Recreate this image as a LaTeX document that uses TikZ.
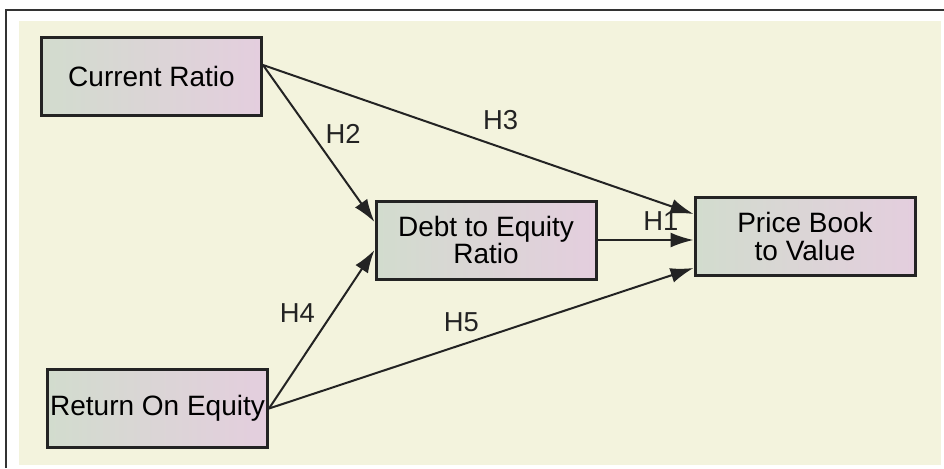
\documentclass[tikz,border=0pt]{standalone}
\usepackage{fontspec}
\setmainfont{Liberation Sans}
\usetikzlibrary{arrows.meta,positioning}
\definecolor{panelcream}{RGB}{243,243,221}
\definecolor{boxgreen}{RGB}{210,220,206}
\definecolor{boxpink}{RGB}{228,206,222}
\definecolor{edgegray}{RGB}{35,35,35}
\tikzset{
  varbox/.style={draw=edgegray, line width=1.5pt, left color=boxgreen, right color=boxpink,
    minimum width=110pt, minimum height=39pt, align=center, inner sep=1pt,
    font=\fontsize{14pt}{13.6pt}\selectfont},
  hyp/.style={-{Latex[length=11.5pt,width=7.5pt]}, line width=1pt, draw=edgegray},
  hlab/.style={inner sep=0pt, text=edgegray, font=\fontsize{13.7pt}{14pt}\selectfont}
}
\begin{document}
\begin{tikzpicture}[x=0.5pt,y=-0.5pt]
    \useasboundingbox (0,0) rectangle (944,468);
    \fill[white] (0,0) rectangle (944,468);
    \fill[panelcream] (19,21) rectangle (941,465);
    \draw[line width=1pt, black!80] (6,468) -- (6,10) -- (944,10);

    \node[varbox] (cr) at (151.5,76) {Current Ratio};
    \node[varbox] (roe) at (157.5,408.5) {Return On Equity};
    \node[varbox] (de) at (486,240) {Debt to Equity\\Ratio};
    \node[varbox] (pb) at (805,236.5) {Price Book\\to Value};

    \coordinate (crout) at ([yshift=5.5pt]cr.east);
    \coordinate (dein1) at ([yshift=9pt]de.west);
    \coordinate (dein2) at ([yshift=-5pt]de.west);
    \coordinate (pbin1) at ([yshift=11.25pt]pb.west);
    \coordinate (pbin2) at (de.east -| pb.west);
    \coordinate (pbin3) at ([yshift=-15.75pt]pb.west);

    \draw[hyp] (crout) -- node[hlab,pos=.44,xshift=15.5pt] (h2) {H2} (dein1);
    \draw[hyp] (crout) -- node[hlab,pos=.552,yshift=13.5pt] (h3) {H3} (pbin1);
    \draw[hyp] (de.east) -- node[hlab,pos=.66,yshift=9.5pt] (h1) {H1} (pbin2);
    \draw[hyp] (roe.east) -- node[hlab,pos=.6,xshift=-17.5pt] (h4) {H4} (dein2);
    \draw[hyp] (roe.east) -- node[hlab,pos=.453,yshift=11.3pt] (h5) {H5} (pbin3);
\end{tikzpicture}
\end{document}
